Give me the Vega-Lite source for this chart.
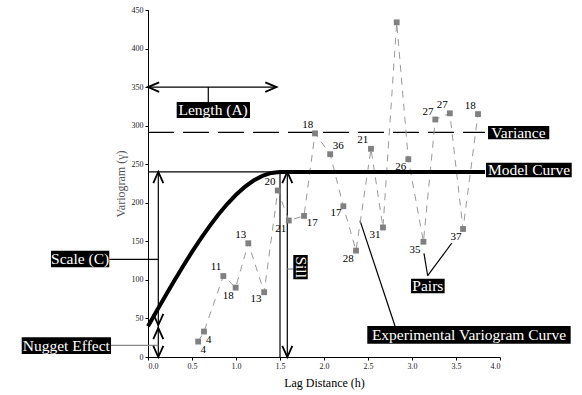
{
  "$schema": "https://vega.github.io/schema/vega-lite/v6.json",
  "width": 352,
  "height": 347,
  "autosize": {"type": "none"},
  "padding": {"left": 148, "top": 10, "right": 82, "bottom": 38},
  "background": "white",
  "config": {
    "view": {"stroke": null},
    "axis": {
      "grid": false,
      "domainColor": "black",
      "domainWidth": 1,
      "tickColor": "black",
      "tickSize": 3,
      "labelFont": "Liberation Serif",
      "labelFontSize": 8,
      "labelColor": "#222",
      "labelPadding": 2,
      "titleFont": "Liberation Serif",
      "titleFontSize": 12,
      "titleFontWeight": "normal"
    },
    "axisX": {"titleColor": "black", "titlePadding": 7},
    "axisY": {"titleColor": "#555", "titlePadding": 4}
  },
  "datasets": {
    "model": [
      {"x": 0.0, "y": 40.0}, {"x": 0.1, "y": 60.0}, {"x": 0.2, "y": 79.8},
      {"x": 0.3, "y": 99.2}, {"x": 0.4, "y": 118.1}, {"x": 0.5, "y": 136.3},
      {"x": 0.6, "y": 153.6}, {"x": 0.7, "y": 169.8}, {"x": 0.8, "y": 184.8},
      {"x": 0.9, "y": 198.4}, {"x": 1.0, "y": 210.4}, {"x": 1.1, "y": 220.6},
      {"x": 1.2, "y": 228.8}, {"x": 1.3, "y": 234.9}, {"x": 1.4, "y": 238.7},
      {"x": 1.5, "y": 240.0}, {"x": 3.83, "y": 240.0}
    ],
    "experimental": [
      {"x": 0.57, "y": 20}, {"x": 0.636, "y": 33}, {"x": 0.856, "y": 105},
      {"x": 0.996, "y": 90}, {"x": 1.14, "y": 147.5}, {"x": 1.32, "y": 84},
      {"x": 1.475, "y": 216}, {"x": 1.6, "y": 177}, {"x": 1.773, "y": 183},
      {"x": 1.898, "y": 290}, {"x": 2.07, "y": 263}, {"x": 2.22, "y": 195.5},
      {"x": 2.364, "y": 138}, {"x": 2.534, "y": 270}, {"x": 2.67, "y": 168},
      {"x": 2.826, "y": 434}, {"x": 2.958, "y": 256.5}, {"x": 3.13, "y": 149.5},
      {"x": 3.265, "y": 308}, {"x": 3.43, "y": 316}, {"x": 3.58, "y": 166},
      {"x": 3.75, "y": 315}
    ],
    "pairlabels": [
      {"x": 0.629, "y": 9.1, "label": "4"}, {"x": 0.69, "y": 22, "label": "4"},
      {"x": 0.773, "y": 116.3, "label": "11"}, {"x": 0.913, "y": 79.1, "label": "18"},
      {"x": 1.053, "y": 158.2, "label": "13"}, {"x": 1.227, "y": 74.8, "label": "13"},
      {"x": 1.386, "y": 227.3, "label": "20"}, {"x": 1.508, "y": 166, "label": "21"},
      {"x": 1.867, "y": 173.4, "label": "17"}, {"x": 1.815, "y": 300.9, "label": "18"},
      {"x": 2.163, "y": 273.6, "label": "36"}, {"x": 2.136, "y": 186.4, "label": "17"},
      {"x": 2.276, "y": 127.1, "label": "28"}, {"x": 2.44, "y": 281.4, "label": "21"},
      {"x": 2.58, "y": 158.2, "label": "31"}, {"x": 2.872, "y": 246.8, "label": "26"},
      {"x": 3.034, "y": 138.8, "label": "35"}, {"x": 3.182, "y": 317.7, "label": "27"},
      {"x": 3.344, "y": 326.8, "label": "27"}, {"x": 3.5, "y": 155.2, "label": "37"},
      {"x": 3.663, "y": 325.5, "label": "18"}
    ],
    "blackrules": [
      {"x": 0, "x2": 1.5, "y": 240, "y2": 240},
      {"x": 1.5, "x2": 1.5, "y": 0, "y2": 240},
      {"x": 0.117, "x2": 0.117, "y": 0, "y2": 240},
      {"x": 1.583, "x2": 1.583, "y": 0, "y2": 240},
      {"x": 0, "x2": 1.46, "y": 350, "y2": 350},
      {"x": 0.685, "x2": 0.685, "y": 350, "y2": 330.7},
      {"x": -0.44, "x2": 0.117, "y": 126.7, "y2": 126.7},
      {"x": 3.178, "x2": 3.136, "y": 105.4, "y2": 134.5},
      {"x": 3.178, "x2": 3.451, "y": 105.4, "y2": 147.5},
      {"x": 2.807, "x2": 2.409, "y": 40.2, "y2": 176.8}
    ],
    "greyrules": [
      {"x": -0.42, "x2": 0.117, "y": 15.2, "y2": 15.2},
      {"x": 1.583, "x2": 1.651, "y": 114.1, "y2": 114.1}
    ],
    "variance": [
      {"x": 0, "x2": 3.83, "y": 291.4, "y2": 291.4}
    ],
    "arrowheads": [
      {"x": 0, "y": 350, "dir": "left"},
      {"x": 1.46, "y": 350, "dir": "right"},
      {"x": 0.117, "y": 240, "dir": "up"},
      {"x": 0.117, "y": 41.5, "dir": "down"},
      {"x": 0.117, "y": 37.6, "dir": "up"},
      {"x": 0.117, "y": 0, "dir": "down"},
      {"x": 1.583, "y": 240, "dir": "up"},
      {"x": 1.583, "y": 0, "dir": "down"}
    ],
    "boxes": [
      {"x": 0.326, "x2": 1.159, "y": 330.7, "y2": 310},
      {"x": 3.864, "x2": 4.56, "y": 299.6, "y2": 282.3},
      {"x": 3.841, "x2": 4.815, "y": 252, "y2": 233},
      {"x": 2.989, "x2": 3.371, "y": 101.5, "y2": 82.6},
      {"x": 2.492, "x2": 4.803, "y": 40.2, "y2": 17.2},
      {"x": 1.651, "x2": 1.815, "y": 132.3, "y2": 100.8},
      {"x": -1.102, "x2": -0.44, "y": 137.9, "y2": 116.3},
      {"x": -1.435, "x2": -0.42, "y": 25.5, "y2": 3.9}
    ],
    "boxlabels": [
      {"x": 0.74, "y": 320.3, "label": "Length (A)"},
      {"x": 4.21, "y": 291, "label": "Variance"},
      {"x": 4.33, "y": 242.5, "label": "Model Curve"},
      {"x": 3.18, "y": 92, "label": "Pairs"},
      {"x": 3.648, "y": 28.7, "label": "Experimental Variogram Curve"},
      {"x": -0.771, "y": 127.1, "label": "Scale (C)"},
      {"x": -0.928, "y": 14.7, "label": "Nugget Effect"}
    ],
    "sill": [
      {"x": 1.733, "y": 116.5, "label": "Sill"}
    ]
  },
  "encoding": {
    "x": {
      "field": "x", "type": "quantitative",
      "scale": {"domain": [0, 4], "nice": false, "zero": false},
      "axis": {"title": "Lag Distance (h)", "values": [0, 0.5, 1, 1.5, 2, 2.5, 3, 3.5, 4], "format": ".1f"}
    },
    "y": {
      "field": "y", "type": "quantitative",
      "scale": {"domain": [0, 450], "nice": false, "zero": false},
      "axis": {"title": "Variogram (γ)", "values": [0, 50, 100, 150, 200, 250, 300, 350, 400, 450]}
    }
  },
  "layer": [
    {
      "data": {"name": "variance"},
      "mark": {"type": "rule", "color": "black", "strokeWidth": 1.2, "strokeDash": [26, 9]},
      "encoding": {"x2": {"field": "x2"}, "y2": {"field": "y2"}}
    },
    {
      "data": {"name": "blackrules"},
      "mark": {"type": "rule", "color": "black", "strokeWidth": 1.2},
      "encoding": {"x2": {"field": "x2"}, "y2": {"field": "y2"}}
    },
    {
      "data": {"name": "greyrules"},
      "mark": {"type": "rule", "color": "#888", "strokeWidth": 1.2},
      "encoding": {"x2": {"field": "x2"}, "y2": {"field": "y2"}}
    },
    {
      "data": {"name": "experimental"},
      "mark": {"type": "line", "color": "#999", "strokeWidth": 1, "strokeDash": [7, 6]},
      "encoding": {}
    },
    {
      "data": {"name": "experimental"},
      "mark": {"type": "square", "color": "#808080", "size": 34, "opacity": 1},
      "encoding": {}
    },
    {
      "data": {"name": "model"},
      "mark": {"type": "line", "color": "black", "strokeWidth": 4, "strokeCap": "butt"},
      "encoding": {}
    },
    {
      "data": {"name": "arrowheads"},
      "mark": {"type": "point", "filled": false, "stroke": "black", "strokeWidth": 1.8, "size": 500, "opacity": 1},
      "encoding": {
        "shape": {
          "field": "dir", "type": "nominal", "legend": null,
          "scale": {
            "domain": ["left", "right", "up", "down"],
            "range": ["M 1 -0.42 L 0 0 L 1 0.42", "M -1 -0.42 L 0 0 L -1 0.42", "M -0.45 1 L 0 0 L 0.45 1", "M -0.45 -1 L 0 0 L 0.45 -1"]
          }
        }
      }
    },
    {
      "data": {"name": "pairlabels"},
      "mark": {"type": "text", "font": "Liberation Serif", "fontSize": 11, "color": "black", "align": "center", "baseline": "middle"},
      "encoding": {"text": {"field": "label"}}
    },
    {
      "data": {"name": "boxes"},
      "mark": {"type": "rect", "color": "black"},
      "encoding": {"x2": {"field": "x2"}, "y2": {"field": "y2"}}
    },
    {
      "data": {"name": "boxlabels"},
      "mark": {"type": "text", "font": "Liberation Serif", "fontSize": 15.5, "color": "white", "align": "center", "baseline": "middle"},
      "encoding": {"text": {"field": "label"}}
    },
    {
      "data": {"name": "sill"},
      "mark": {"type": "text", "font": "Liberation Serif", "fontSize": 15.5, "color": "white", "align": "center", "baseline": "middle", "angle": 90},
      "encoding": {"text": {"field": "label"}}
    }
  ]
}
